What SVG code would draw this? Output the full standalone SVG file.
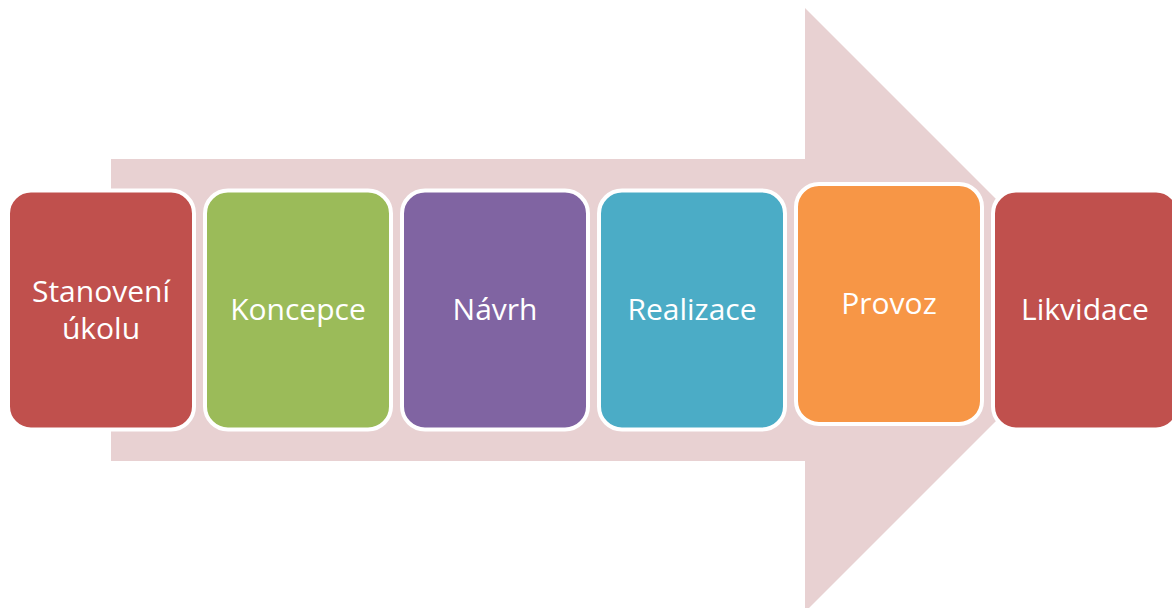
<svg xmlns="http://www.w3.org/2000/svg" width="1172" height="608" viewBox="0 0 1172 608">
  <style>
    .step { stroke: #FFFFFF; stroke-width: 4; }
    .label { fill: #FFFFFF; font-family: "Open Sans", "Noto Sans", "Liberation Sans", sans-serif; font-size: 30px; text-anchor: middle; }
    .red { fill: #C0504D; }
    .green { fill: #9BBB59; }
    .purple { fill: #8064A2; }
    .teal { fill: #4BACC6; }
    .orange { fill: #F79646; }
  </style>

  <!-- Background process arrow -->
  <g id="process-arrow">
    <polygon points="111,159 805,159 805,8 1107,310 805,612 805,461 111,461" fill="#E8D1D2"/>
  </g>

  <!-- Steps -->
  <g id="step-stanoveni">
    <rect class="step red" x="8" y="190.5" width="186" height="239" rx="23"/>
    <text class="label" x="101" y="302">Stanovení</text>
    <text class="label" x="101" y="339">úkolu</text>
  </g>

  <g id="step-koncepce">
    <rect class="step green" x="205" y="190.5" width="186" height="239" rx="23"/>
    <text class="label" x="298" y="320">Koncepce</text>
  </g>

  <g id="step-navrh">
    <rect class="step purple" x="402" y="190.5" width="186" height="239" rx="23"/>
    <text class="label" x="495" y="320">Návrh</text>
  </g>

  <g id="step-realizace">
    <rect class="step teal" x="599" y="190.5" width="186" height="239" rx="23"/>
    <text class="label" x="692" y="320">Realizace</text>
  </g>

  <g id="step-provoz">
    <rect class="step orange" x="796" y="184" width="186" height="240" rx="23"/>
    <text class="label" x="889" y="314">Provoz</text>
  </g>

  <g id="step-likvidace">
    <rect class="step red" x="993" y="190.5" width="186" height="239" rx="23"/>
    <text class="label" x="1085" y="320">Likvidace</text>
  </g>

  <!-- No connectors: the steps sit on the shared arrow -->
  <g id="connectors"/>
</svg>
